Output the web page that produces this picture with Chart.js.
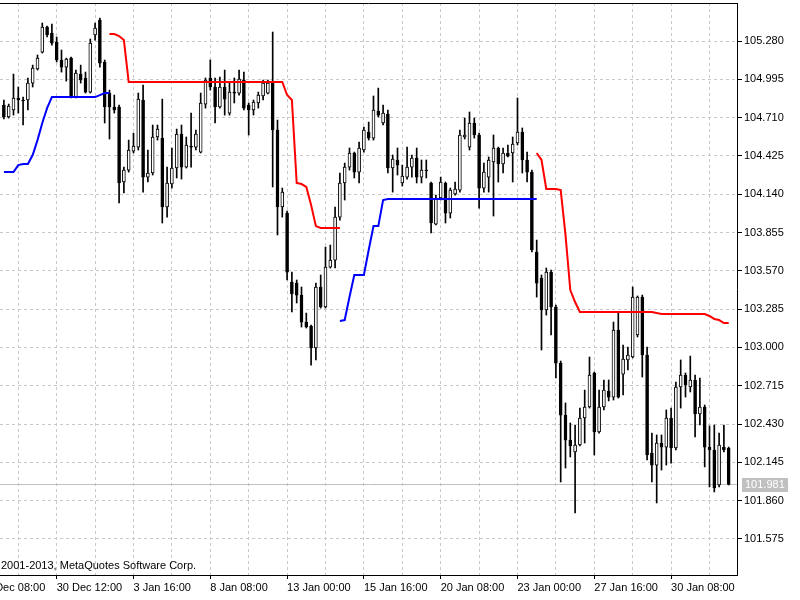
<!DOCTYPE html>
<html>
<head>
<meta charset="utf-8">
<script src="https://cdn.jsdelivr.net/npm/chart.js@4.4.0/dist/chart.umd.min.js"></script>
<style>
  html, body { margin: 0; padding: 0; background: #fff; }
  canvas { display: block; }
</style>
</head>
<body>
<canvas id="priceChart" width="800" height="600"></canvas>
<script>
// H4 candles
const opens = [
  104.804, 104.715, 104.767, 104.856, 104.841, 104.841, 104.967, 105.072, 105.198, 105.384,
  105.340, 105.272, 105.139, 105.086, 105.153, 104.863, 105.035, 105.005, 104.900, 105.325,
  105.436, 105.124, 104.893, 104.789, 104.789, 104.231, 104.320, 104.461, 104.491, 104.841,
  104.268, 104.298, 104.566, 104.558, 104.045, 104.216, 104.335, 104.588, 104.342, 104.499,
  104.491, 104.454, 104.811, 105.005, 104.938, 104.789, 104.938, 104.744, 104.900, 104.893,
  104.990, 104.804, 104.767, 104.819, 104.871, 104.893, 104.975, 104.618, 104.045, 104.000,
  103.487, 103.479, 103.390, 103.189, 103.160, 102.996, 103.450, 103.301, 103.598, 103.650,
  103.970, 104.224, 104.342, 104.447, 104.305, 104.469, 104.603, 104.558, 104.759, 104.670,
  104.737, 104.335, 104.395, 104.224, 104.268, 104.342, 104.409, 104.268, 104.320, 104.224,
  103.918, 104.112, 104.224, 104.000, 104.142, 104.171, 104.566, 104.491, 104.670, 104.581,
  104.186, 104.268, 104.380, 104.484, 104.365, 104.447, 104.447, 104.521, 104.603, 104.395,
  104.305, 103.710, 103.517, 103.279, 103.561, 103.301, 102.884, 102.497, 102.311, 102.222,
  102.274, 102.475, 102.557, 102.810, 102.371, 102.557, 102.676, 102.631, 103.130, 102.802,
  102.907, 102.929, 103.093, 103.375, 102.944, 102.215, 102.125, 102.289, 102.259, 102.475,
  102.252, 102.706, 102.795, 102.706, 102.758, 102.505, 102.557, 102.259, 102.237, 101.977,
  102.259, 102.252
];
const highs = [
  104.841, 104.811, 105.034, 104.938, 104.863, 105.005, 105.101, 105.176, 105.414, 105.392,
  105.406, 105.310, 105.213, 105.153, 105.161, 105.064, 105.101, 105.049, 105.295, 105.414,
  105.451, 105.139, 104.915, 104.878, 104.804, 104.342, 104.543, 104.595, 104.893, 104.953,
  104.469, 104.655, 104.655, 104.848, 104.342, 104.484, 104.625, 104.655, 104.566, 104.744,
  104.618, 104.893, 105.005, 105.139, 105.005, 105.012, 105.064, 104.975, 105.005, 105.064,
  105.049, 104.819, 104.841, 104.900, 104.990, 104.990, 105.347, 104.692, 104.186, 104.015,
  103.561, 103.502, 103.450, 103.256, 103.167, 103.479, 103.539, 103.747, 103.762, 104.045,
  104.298, 104.372, 104.484, 104.454, 104.528, 104.640, 104.677, 104.871, 104.930, 104.804,
  104.767, 104.432, 104.484, 104.357, 104.491, 104.432, 104.484, 104.395, 104.395, 104.231,
  104.134, 104.268, 104.231, 104.186, 104.231, 104.618, 104.707, 104.752, 104.707, 104.595,
  104.372, 104.417, 104.581, 104.491, 104.484, 104.506, 104.566, 104.856, 104.633, 104.454,
  104.320, 103.799, 103.539, 103.591, 103.576, 103.316, 102.899, 102.587, 102.438, 102.423,
  102.549, 102.683, 102.929, 102.817, 102.683, 102.758, 102.758, 103.189, 103.256, 103.018,
  103.003, 103.450, 103.383, 103.390, 103.003, 102.363, 102.349, 102.349, 102.535, 102.549,
  102.743, 102.907, 102.810, 102.936, 102.795, 102.773, 102.572, 102.416, 102.423, 102.363,
  102.423, 102.259
];
const lows = [
  104.700, 104.707, 104.729, 104.744, 104.655, 104.767, 104.938, 105.064, 105.191, 105.310,
  105.250, 105.124, 105.049, 104.982, 104.856, 104.856, 104.967, 104.893, 104.893, 105.287,
  105.086, 104.670, 104.551, 104.744, 104.075, 104.149, 104.305, 104.447, 104.469, 104.156,
  104.231, 104.283, 104.543, 103.926, 103.970, 104.186, 104.261, 104.253, 104.335, 104.342,
  104.469, 104.447, 104.781, 104.915, 104.670, 104.781, 104.729, 104.729, 104.819, 104.878,
  104.767, 104.581, 104.729, 104.781, 104.841, 104.886, 104.194, 103.837, 103.970, 103.502,
  103.264, 103.331, 103.152, 103.145, 102.869, 102.907, 103.293, 103.293, 103.591, 103.591,
  103.948, 104.097, 104.320, 104.261, 104.224, 104.454, 104.543, 104.543, 104.715, 104.655,
  104.298, 104.156, 104.283, 104.201, 104.253, 104.268, 104.224, 104.224, 104.261, 103.852,
  103.911, 104.097, 103.926, 103.963, 104.134, 104.156, 104.551, 104.469, 104.558, 104.037,
  104.156, 104.156, 103.978, 104.231, 104.298, 104.417, 104.231, 104.506, 104.298, 104.231,
  103.710, 103.375, 102.981, 103.241, 103.093, 102.773, 101.999, 102.103, 102.185, 101.768,
  102.267, 102.289, 102.549, 102.200, 102.363, 102.535, 102.602, 102.609, 102.624, 102.646,
  102.832, 102.922, 103.078, 102.780, 102.163, 101.999, 101.843, 102.088, 102.125, 102.140,
  102.237, 102.549, 102.631, 102.669, 102.334, 102.423, 102.111, 101.962, 101.925, 101.962,
  102.222, 101.977
];
const closes = [
  104.715, 104.796, 104.856, 104.841, 104.834, 104.967, 105.079, 105.153, 105.384, 105.325,
  105.265, 105.139, 105.086, 105.146, 104.863, 105.042, 104.990, 104.900, 105.265, 105.377,
  105.116, 104.789, 104.789, 104.767, 104.224, 104.320, 104.469, 104.499, 104.848, 104.268,
  104.298, 104.566, 104.625, 104.045, 104.224, 104.335, 104.588, 104.342, 104.506, 104.491,
  104.588, 104.819, 104.990, 104.938, 104.789, 104.938, 104.848, 104.900, 104.893, 104.997,
  104.781, 104.767, 104.826, 104.878, 104.967, 104.967, 104.618, 104.045, 104.156, 103.561,
  103.398, 103.390, 103.189, 103.152, 102.996, 103.450, 103.301, 103.598, 103.650, 103.970,
  104.224, 104.342, 104.447, 104.305, 104.484, 104.618, 104.558, 104.767, 104.729, 104.744,
  104.335, 104.402, 104.357, 104.276, 104.342, 104.409, 104.268, 104.320, 104.313, 103.926,
  104.112, 104.231, 104.000, 104.171, 104.179, 104.581, 104.581, 104.670, 104.581, 104.186,
  104.305, 104.395, 104.484, 104.365, 104.447, 104.424, 104.514, 104.603, 104.395, 104.305,
  103.725, 103.479, 103.279, 103.561, 103.301, 102.884, 102.497, 102.311, 102.267, 102.274,
  102.475, 102.557, 102.795, 102.371, 102.557, 102.683, 102.631, 103.130, 102.631, 102.914,
  102.944, 103.375, 103.375, 102.944, 102.200, 102.125, 102.289, 102.259, 102.475, 102.252,
  102.706, 102.795, 102.721, 102.758, 102.505, 102.557, 102.259, 102.237, 101.954, 102.274,
  102.237, 101.981
];

// trailing stop: red above price (short), blue below price (long)
const stopDown = [
  null, null, null, null, null, null, null, null, null, null,
  null, null, null, null, null, null, null, null, null, null,
  null, null, 105.332, 105.332, 105.317, 105.287, 104.975, 104.975, 104.975, 104.975,
  104.975, 104.975, 104.975, 104.975, 104.975, 104.975, 104.975, 104.975, 104.975, 104.975,
  104.975, 104.975, 104.975, 104.975, 104.975, 104.975, 104.975, 104.975, 104.975, 104.975,
  104.975, 104.975, 104.975, 104.975, 104.975, 104.975, 104.975, 104.975, 104.975, 104.878,
  104.841, 104.224, 104.216, 104.194, 104.060, 103.903, 103.889, 103.889, 103.889, 103.889,
  103.889, null, null, null, null, null, null, null, null, null,
  null, null, null, null, null, null, null, null, null, null,
  null, null, null, null, null, null, null, null, null, null,
  null, null, null, null, null, null, null, null, null, null,
  null, 104.447, 104.395, 104.179, 104.179, 104.179, 104.171, 103.837, 103.427, 103.338,
  103.264, 103.264, 103.264, 103.264, 103.264, 103.264, 103.264, 103.264, 103.264, 103.264,
  103.264, 103.264, 103.264, 103.264, 103.264, 103.264, 103.256, 103.249, 103.249, 103.249,
  103.249, 103.249, 103.249, 103.249, 103.249, 103.249, 103.249, 103.234, 103.212, 103.204,
  103.182, 103.182
];
const stopUp = [
  104.305, 104.305, 104.305, 104.357, 104.365, 104.365, 104.432, 104.543, 104.670, 104.781,
  104.863, 104.863, 104.863, 104.863, 104.863, 104.863, 104.863, 104.863, 104.863, 104.863,
  104.878, 104.893, 104.893, null, null, null, null, null, null, null,
  null, null, null, null, null, null, null, null, null, null,
  null, null, null, null, null, null, null, null, null, null,
  null, null, null, null, null, null, null, null, null, null,
  null, null, null, null, null, null, null, null, null, null,
  103.197, 103.204, 103.375, 103.539, 103.539, 103.539, 103.725, 103.903, 103.903, 104.097,
  104.104, 104.104, 104.104, 104.104, 104.104, 104.104, 104.104, 104.104, 104.104, 104.104,
  104.104, 104.104, 104.104, 104.104, 104.104, 104.104, 104.104, 104.104, 104.104, 104.104,
  104.104, 104.104, 104.104, 104.104, 104.104, 104.104, 104.104, 104.104, 104.104, 104.104,
  104.104, 104.104, null, null, null, null, null, null, null, null,
  null, null, null, null, null, null, null, null, null, null,
  null, null, null, null, null, null, null, null, null, null,
  null, null, null, null, null, null, null, null, null, null,
  null, null
];

const priceTicks = [101.575, 101.860, 102.145, 102.430, 102.715, 103.000, 103.285,
  103.570, 103.855, 104.140, 104.425, 104.710, 104.995, 105.280];
const timeTickIdx = [-5, 11, 27, 43, 59, 75, 91, 107, 123, 139];
const timeTickLabels = ['26 Dec 08:00', '30 Dec 12:00', '3 Jan 16:00', '8 Jan 08:00', '13 Jan 00:00',
  '15 Jan 16:00', '20 Jan 08:00', '23 Jan 00:00', '27 Jan 16:00', '30 Jan 08:00'];
const lastPrice = 101.981;
const copyright = '2001-2013, MetaQuotes Software Corp.';

const FONT = "'Liberation Sans', Arial, sans-serif";
const GRID = '#c8c8c8';

const idx = opens.map((_, i) => i);
const wickData = idx.map(i => ({ x: i, y: [lows[i], highs[i]] }));
const bodyData = idx.map(i => ({ x: i, y: [opens[i], closes[i]] }));
const bodyFill = idx.map(i => closes[i] >= opens[i] ? '#ffffff' : '#000000');

// grid every 8 bars, labels every 16
const gridIdx = [];
for (let v = 3; v < opens.length; v += 8) gridIdx.push(v);
const xTickValues = [timeTickIdx[0]].concat(gridIdx);

const extras = {
  id: 'extras',
  beforeDatasetsDraw(chart) {
    const { ctx, chartArea: a, scales: { y } } = chart;
    const py = Math.round(y.getPixelForValue(lastPrice)) + 0.5;
    ctx.save();
    ctx.strokeStyle = '#c0c0c0';
    ctx.lineWidth = 1;
    ctx.beginPath();
    ctx.moveTo(a.left, py);
    ctx.lineTo(a.right, py);
    ctx.stroke();
    ctx.restore();
  },
  afterDraw(chart) {
    const { ctx, chartArea: a, scales: { y } } = chart;
    ctx.save();
    ctx.strokeStyle = '#000';
    ctx.lineWidth = 1;
    ctx.beginPath();
    ctx.moveTo(a.left, a.top + 0.5);
    ctx.lineTo(a.right, a.top + 0.5);
    ctx.stroke();

    const py = Math.round(y.getPixelForValue(lastPrice));
    ctx.fillStyle = '#c0c0c0';
    ctx.fillRect(a.right + 5, py - 6, 46, 14);
    ctx.font = '11px ' + FONT;
    ctx.textBaseline = 'middle';
    ctx.fillStyle = '#ffffff';
    ctx.fillText(lastPrice.toFixed(3), a.right + 8, py + 1);

    ctx.fillStyle = '#000';
    ctx.fillText(copyright, 1, a.bottom - 9);
    ctx.restore();
  }
};

new Chart(document.getElementById('priceChart'), {
  type: 'bar',
  data: {
    datasets: [
      {
        type: 'line', label: 'Stop down', data: stopDown.map((v, i) => ({ x: i, y: v })),
        borderColor: '#ff0000', borderWidth: 2, pointRadius: 0, spanGaps: false, order: 0
      },
      {
        type: 'line', label: 'Stop up', data: stopUp.map((v, i) => ({ x: i, y: v })),
        borderColor: '#0000ff', borderWidth: 2, pointRadius: 0, spanGaps: false, order: 0
      },
      {
        label: 'Body', data: bodyData, backgroundColor: bodyFill, borderColor: '#000',
        borderWidth: 1, borderSkipped: false, barThickness: 3, grouped: false, order: 1
      },
      {
        label: 'Wick', data: wickData, backgroundColor: '#000', borderWidth: 0,
        barThickness: 1, grouped: false, order: 2
      }
    ]
  },
  options: {
    responsive: false,
    animation: false,
    layout: { padding: { top: 3, left: 0, right: 0, bottom: 0 } },
    plugins: { legend: { display: false }, tooltip: { enabled: false } },
    scales: {
      x: {
        type: 'linear',
        min: -0.81,
        max: 152.73,
        offset: false,
        afterBuildTicks: s => { s.ticks = xTickValues.map(v => ({ value: v })); },
        afterFit: s => { s.height = 25; s.paddingLeft = 0; s.paddingRight = 0; },
        grid: {
          offset: false,
          color: GRID,
          tickLength: 4,
          tickColor: c => timeTickIdx.includes(c.tick && c.tick.value) ? '#000' : 'rgba(0,0,0,0)'
        },
        border: { display: true, color: '#000', width: 1, dash: [3, 3] },
        ticks: {
          autoSkip: false,
          maxRotation: 0,
          minRotation: 0,
          align: 'start',
          padding: 2,
          color: '#000',
          font: { family: FONT, size: 11 },
          callback: v => {
            const k = timeTickIdx.indexOf(v);
            return k >= 0 ? timeTickLabels[k] : '';
          }
        }
      },
      y: {
        position: 'right',
        min: 101.307,
        max: 105.563,
        afterBuildTicks: s => { s.ticks = priceTicks.map(v => ({ value: v })); },
        afterFit: s => { s.width = 63; s.paddingTop = 0; s.paddingBottom = 0; },
        grid: { color: GRID, tickLength: 5, tickColor: '#000' },
        border: { display: true, color: '#000', width: 1, dash: [3, 3] },
        ticks: {
          padding: 2,
          color: '#000',
          font: { family: FONT, size: 11 },
          callback: v => Number(v).toFixed(3)
        }
      }
    }
  },
  plugins: [extras]
});
</script>
</body>
</html>
